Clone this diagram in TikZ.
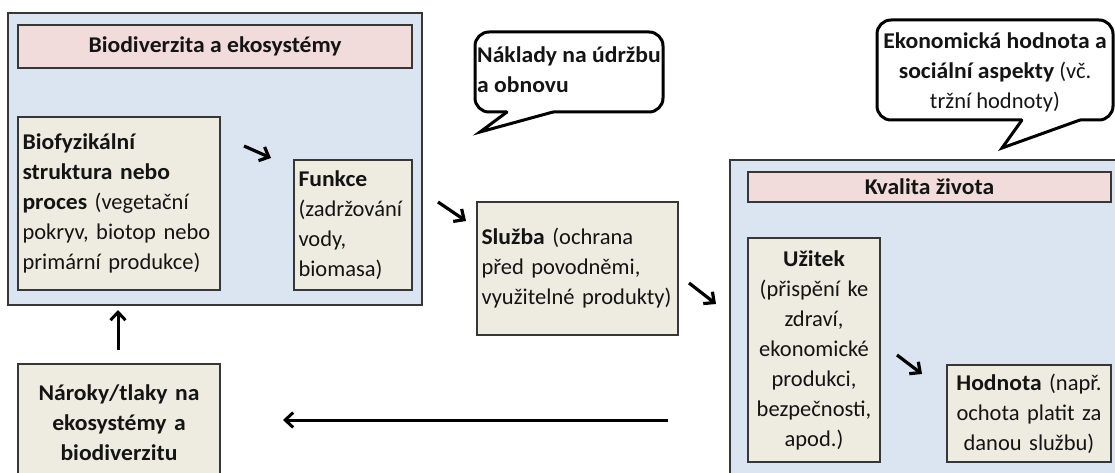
\documentclass[tikz,border=0pt]{standalone}
\usepackage{fontspec}
\setmainfont{Carlito}[BoldFeatures={FakeStretch=1.05}]
\usetikzlibrary{arrows.meta}
\definecolor{boxblue}{RGB}{219,229,241}
\definecolor{boxpink}{RGB}{242,220,219}
\definecolor{boxbeige}{RGB}{238,236,225}
\definecolor{edgegray}{RGB}{55,55,55}
\definecolor{ink}{RGB}{20,20,20}
\begin{document}
\hyphenpenalty=10000 \exhyphenpenalty=10000
\begin{tikzpicture}[x=1pt, y=-1pt,
  txt/.style={font=\fontsize{22.5}{30}\selectfont, text=ink},
  container/.style={draw=edgegray, line width=1.2pt, fill=boxblue, anchor=north west, inner sep=0pt, outer sep=0pt},
  header/.style={draw=edgegray, line width=1.2pt, fill=boxpink, anchor=north west, inner sep=0pt, outer sep=0pt, txt, font=\fontsize{22.5}{30}\selectfont\bfseries},
  card/.style={draw=edgegray, line width=1.2pt, fill=boxbeige, anchor=north west, inner xsep=4.5pt, inner ysep=0pt, outer sep=0pt, txt},
  bubble/.style={draw=black, line width=3pt, fill=white, rounded corners=14pt},
  tailline/.style={draw=black, line width=3pt, line join=miter, line cap=round},
  flow/.style={line width=3.2pt, black, -{Straight Barb[length=8pt, width=15pt, line width=3.2pt]}},
  longflow/.style={line width=3pt, black, -{Straight Barb[length=8pt, width=15pt, line width=3pt]}}
]
\useasboundingbox (0,0) rectangle (1115,473);
\fill[white] (0,0) rectangle (1115,473);
\clip (0,0) rectangle (1115,473);

% ---- left container: biodiversity and ecosystems
\node[container, minimum width=414pt, minimum height=292pt] (eco) at (8,13) {};
\node[header, minimum width=394pt, minimum height=43pt] (ecohead) at (18,25) {Biodiverzita a ekosystémy};
\node[card, minimum width=202pt, minimum height=173pt, text width=193pt, align=left] (bio) at (18,117)
  {\textbf{Biofyzikální}\\ \textbf{struktura nebo}\\ \textbf{proces} (vegetační\\ \mbox{pokryv, biotop nebo}\\ \mbox{primární produkce)}};
\node[card, minimum width=118pt, minimum height=130pt, text width=109pt, align=left] (fun) at (294,160)
  {\textbf{Funkce}\\ (zadržování\\ vody,\\ biomasa)};

% ---- service
\node[card, minimum width=201pt, minimum height=133pt, text width=192pt, align=left] (serv) at (477,202)
  {\textbf{Služba} (ochrana\\ \mbox{před povodněmi,}\\ \mbox{využitelné produkty)}};

% ---- right container: quality of life
\node[container, minimum width=400pt, minimum height=330pt] (life) at (730,160) {};
\node[header, minimum width=363pt, minimum height=30pt] (lifehead) at (748,172) {Kvalita života};
\node[card, minimum width=132pt, minimum height=224pt, text width=123pt, align=center] (ben) at (748,238)
  {\textbf{Užitek}\\ \mbox{(přispění ke}\\ zdraví,\\ ekonomické\\ produkci,\\ bezpečnosti,\\ apod.)};
\node[card, minimum width=164pt, minimum height=97pt, text width=155pt, align=center] (val) at (947,365)
  {\mbox{\textbf{Hodnota} (např.}\\ \mbox{ochota platit za}\\ \mbox{danou službu)}};

% ---- pressures
\node[card, minimum width=202pt, minimum height=118pt, text width=193pt, align=center, font=\fontsize{22.5}{30}\selectfont\bfseries] (press) at (18,364)
  {\mbox{Nároky/tlaky na}\\ \mbox{ekosystémy a}\\ biodiverzitu};

% ---- speech bubble 1
\draw[bubble] (475,32) rectangle (663,112);
\coordinate (t1a) at (507,112);
\coordinate (t1tip) at (480,132);
\coordinate (t1e) at (553,112);
\fill[white] (t1a) -- (t1tip) -- (t1e) -- (553,108) -- (507,108) -- cycle;
\draw[tailline] (t1a) -- (t1tip) -- (t1e);
\node[txt, font=\fontsize{22.5}{30}\selectfont\bfseries, align=left, anchor=west, inner sep=0pt] (cost) at (477,70)
  {\mbox{Náklady na údržbu}\\ a obnovu};

% ---- speech bubble 2
\draw[bubble] (877,20) rectangle (1113,120);
\coordinate (t2a) at (1022,120);
\coordinate (t2tip) at (1002,148);
\coordinate (t2e) at (1080,120);
\fill[white] (t2a) -- (t2tip) -- (t2e) -- (1080,116) -- (1022,116) -- cycle;
\draw[tailline] (t2a) -- (t2tip) -- (t2e);
\node[txt, align=center, inner sep=0pt] (econ) at (995,72)
  {\mbox{\textbf{Ekonomická hodnota a}}\\ \mbox{\textbf{sociální aspekty} (vč.}\\ \mbox{tržní hodnoty)}};

% ---- arrows
\coordinate (a1s) at (244,146); \coordinate (a1e) at (271,158);
\coordinate (a2s) at (438,202); \coordinate (a2e) at (466,221);
\coordinate (a3s) at (689,283); \coordinate (a3e) at (716,304);
\coordinate (a4s) at (897,355); \coordinate (a4e) at (922,374);
\draw[flow] (a1s) -- (a1e);
\draw[flow] (a2s) -- (a2e);
\draw[flow] (a3s) -- (a3e);
\draw[flow] (a4s) -- (a4e);
\draw[longflow] (press.north -| 118,0) ++(0,-14) coordinate (upS) -- (118,310) coordinate (upE);
\coordinate (backS) at (668,420);
\draw[longflow] (backS) -- (283,420) coordinate (backE);
\end{tikzpicture}
\end{document}
